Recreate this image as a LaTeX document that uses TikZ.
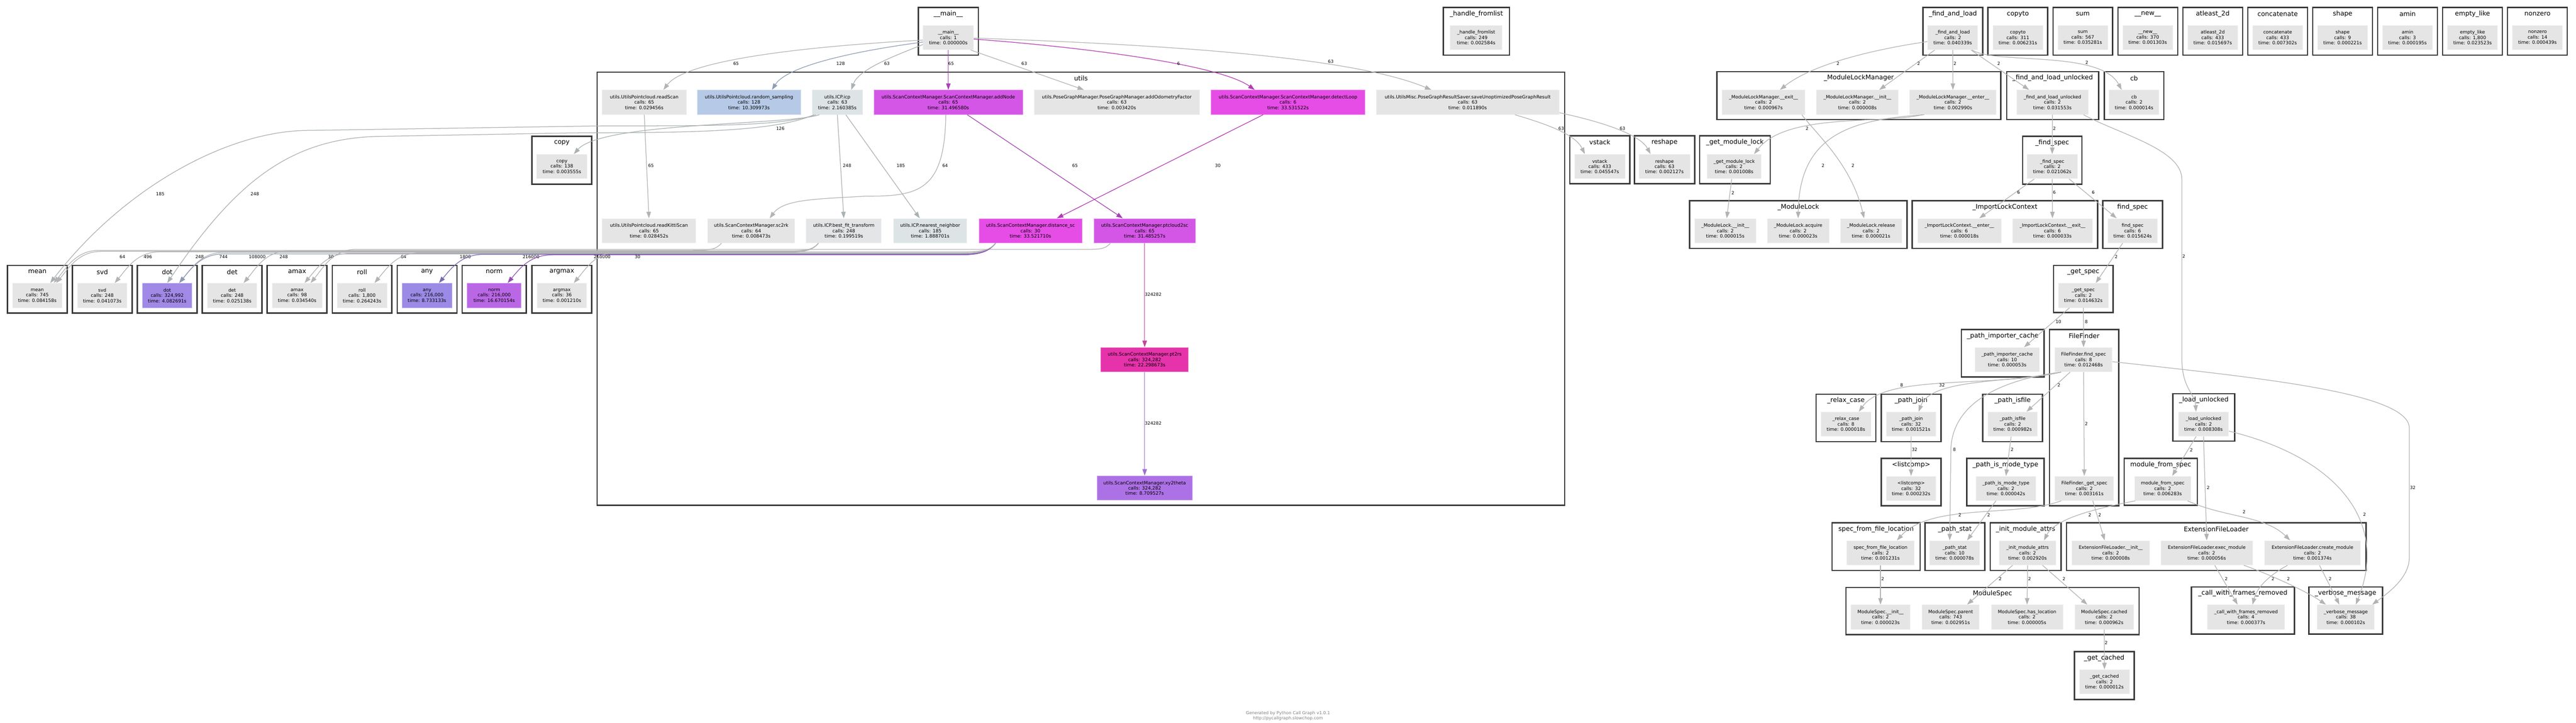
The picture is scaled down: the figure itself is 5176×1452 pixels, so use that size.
\documentclass[tikz,border=0pt]{standalone}
\usepackage{fontspec}
\setmainfont{DejaVu Sans}
\usetikzlibrary{arrows.meta,calc}

\definecolor{fgray}{HTML}{E5E5E5}
\definecolor{cIcp}{HTML}{DCE4E6}
\definecolor{cNear}{HTML}{DDE4E6}
\definecolor{cBest}{HTML}{E4E5E6}
\definecolor{cRand}{HTML}{B6C9E6}
\definecolor{cAdd}{HTML}{D456E6}
\definecolor{cDet}{HTML}{E64DE6}
\definecolor{cPt}{HTML}{E633AB}
\definecolor{cXy}{HTML}{AD71E6}
\definecolor{cDot}{HTML}{A089E7}
\definecolor{cAny}{HTML}{9C8BE6}
\definecolor{cNorm}{HTML}{BA67E6}
\definecolor{clline}{HTML}{3A3A3A}
\definecolor{egray}{HTML}{B3B3B3}
\definecolor{eIcp}{HTML}{AAB1B3}
\definecolor{eRand}{HTML}{8E9CB3}
\definecolor{eAdd}{HTML}{A543B3}
\definecolor{eDet}{HTML}{B33BB3}
\definecolor{ePt}{HTML}{C2469E}
\definecolor{eXy}{HTML}{9F6FD0}
\definecolor{eDot}{HTML}{8E9AB3}
\definecolor{eAny}{HTML}{796CB3}
\definecolor{eNorm}{HTML}{9150B3}

\newcommand{\fnfont}{\fontsize{9.3}{10.8}\selectfont}
\newcommand{\clfont}{\fontsize{13}{15}\selectfont}
\newcommand{\lbfont}{\fontsize{8.8}{10}\selectfont}
\newcommand{\ftfont}{\fontsize{8.6}{11}\selectfont}

\tikzset{
  fn/.style={rectangle, fill=#1, draw=#1!55!white, line width=1pt, minimum height=49pt, inner sep=1pt, align=center, font=\fnfont},
  fn/.default=fgray,
  clus/.style={draw=clline, line width=2.6pt},
  ctitle/.style={font=\clfont, inner sep=0pt},
  call/.style={draw=egray, line width=1.3pt, -{Triangle[length=13pt,width=9pt]}},
  lbl/.style={font=\lbfont, inner sep=0pt},
}

\begin{document}
\begin{tikzpicture}[x=1pt,y=-1pt]
\useasboundingbox (0,0) rectangle (5176,1452);
\fill[white] (0,0) rectangle (5176,1452);

% clusters with one function
\draw[clus] (1845,15) rectangle (1966,111);
\node[ctitle] (tMain) at (1905.5,28) {\_\_main\_\_};
\node[fn, minimum width=101pt] (main) at (1905.5,75.5) {\_\_main\_\_\\calls: 1\\time: 0.000000s};
\draw[clus] (2900,15) rectangle (3033,111);
\node[ctitle] (tHandle) at (2966.5,28) {\_handle\_fromlist};
\node[fn, minimum width=104pt] (handleFromlist) at (2966,75.5) {\_handle\_fromlist\\calls: 249\\time: 0.002584s};
\draw[clus] (3864,15) rectangle (3984,111);
\node[ctitle] (tFindLoad) at (3924,28) {\_find\_and\_load};
\node[fn, minimum width=101pt] (findLoad) at (3923.5,75.5) {\_find\_and\_load\\calls: 2\\time: 0.040339s};

\foreach \x/\nm/\ttl/\cl/\tm in {3994.5/copyto/copyto/311/0.006231, 4125/sum/sum/567/0.035281,
  4255.5/new/\_\_new\_\_/370/0.001303, 4386/atleastTwoD/atleast\_2d/433/0.015697,
  4516.5/concatenate/concatenate/433/0.007302, 4647/shape/shape/9/0.000221,
  4777.5/amin/amin/3/0.000195, 4908/emptyLike/empty\_like/{1,800}/0.023523,
  5038.5/nonzero/nonzero/14/0.000439}
{
  \draw[clus] (\x,15) rectangle ++(120,96);
  \node[ctitle] (t\nm) at (\x+60,28) {\ttl};
  \node[fn, minimum width=100pt] (\nm) at (\x+60,75.5) {\ttl\\calls: \cl\\time: \tm s};
}

\foreach \x/\w/\nm/\cl/\tm/\fc in {15/120/mean/745/0.084158/fgray, 145.5/120/svd/248/0.041073/fgray,
  276/120/dot/{324,992}/4.082691/cDot, 406.5/120/det/248/0.025138/fgray,
  537/120/amax/98/0.034540/fgray, 667.5/120/roll/{1,800}/0.264243/fgray,
  798/120/any/{216,000}/8.733133/cAny, 928.5/129/norm/{216,000}/16.670154/cNorm,
  1069/120/argmax/36/0.001210/fgray}
{
  \draw[clus] (\x,533) rectangle ++(\w,96);
  \node[ctitle] (t\nm) at (\x+\w/2,546) {\nm};
  \node[fn=\fc, minimum width=\w pt-20pt] (\nm) at (\x+\w/2,593.5) {\nm\\calls: \cl\\time: \tm s};
}

\draw[clus] (1069,274) rectangle (1189,370);
\node[ctitle] (tCopy) at (1129,287) {copy};
\node[fn, minimum width=102pt] (copy) at (1129,334.5) {copy\\calls: 138\\time: 0.003555s};
\draw[clus] (3154,273) rectangle (3275,369);
\node[ctitle] (tVstack) at (3214.5,286) {vstack};
\node[fn, minimum width=101pt] (vstack) at (3214.5,334.5) {vstack\\calls: 433\\time: 0.045547s};
\draw[clus] (3284,273) rectangle (3405,369);
\node[ctitle] (tReshape) at (3344.5,286) {reshape};
\node[fn, minimum width=102pt] (reshape) at (3344.5,334.5) {reshape\\calls: 63\\time: 0.002127s};
\draw[clus] (3415,273) rectangle (3557,369);
\node[ctitle] (tGetModLock) at (3486,286) {\_get\_module\_lock};
\node[fn, minimum width=109pt] (getModLock) at (3484.5,334.5) {\_get\_module\_lock\\calls: 2\\time: 0.001008s};
\draw[clus] (4032,144) rectangle (4217,240);
\node[ctitle] (tFindLoadUnl) at (4124.5,157) {\_find\_and\_load\_unlocked};
\node[fn, minimum width=144pt] (findLoadUnl) at (4124,205.5) {\_find\_and\_load\_unlocked\\calls: 2\\time: 0.031553s};
\draw[clus] (4228,144) rectangle (4348,240);
\node[ctitle] (tCb) at (4288,157) {cb};
\node[fn, minimum width=100pt] (cb) at (4288,205.5) {cb\\calls: 2\\time: 0.000014s};
\draw[clus] (4064,274) rectangle (4183,370);
\node[ctitle] (tFindSpecP) at (4123.5,287) {\_find\_spec};
\node[fn, minimum width=101pt] (findSpecP) at (4123.5,334.5) {\_find\_spec\\calls: 2\\time: 0.021062s};
\draw[clus] (4225,403) rectangle (4345,499);
\node[ctitle] (tFindSpec) at (4285,416) {find\_spec};
\node[fn, minimum width=100pt] (findSpec) at (4285,463.5) {find\_spec\\calls: 6\\time: 0.015624s};
\draw[clus] (4126,533) rectangle (4246,628);
\node[ctitle] (tGetSpec) at (4186,546) {\_get\_spec};
\node[fn, minimum width=100pt] (getSpec) at (4186,593.5) {\_get\_spec\\calls: 2\\time: 0.014632s};
\draw[clus] (3941,662) rectangle (4107,757);
\node[ctitle] (tPathImp) at (4024,675) {\_path\_importer\_cache};
\node[fn, minimum width=130pt] (pathImp) at (4033,722.5) {\_path\_importer\_cache\\calls: 10\\time: 0.000053s};
\draw[clus] (3649,792) rectangle (3769,887);
\node[ctitle] (tRelax) at (3709,805) {\_relax\_case};
\node[fn, minimum width=100pt] (relaxCase) at (3709,852) {\_relax\_case\\calls: 8\\time: 0.000018s};
\draw[clus] (3780,792) rectangle (3900,887);
\node[ctitle] (tPathJoin) at (3840,805) {\_path\_join};
\node[fn, minimum width=100pt] (pathJoin) at (3840,852) {\_path\_join\\calls: 32\\time: 0.001521s};
\draw[clus] (3984,792) rectangle (4104,887);
\node[ctitle] (tPathIsfile) at (4044,805) {\_path\_isfile};
\node[fn, minimum width=100pt] (pathIsfile) at (4044,852) {\_path\_isfile\\calls: 2\\time: 0.000982s};
\draw[clus] (4366,791) rectangle (4490,886);
\node[ctitle] (tLoadUnl) at (4428,804) {\_load\_unlocked};
\node[fn, minimum width=101pt] (loadUnl) at (4427.5,852) {\_load\_unlocked\\calls: 2\\time: 0.008308s};
\draw[clus] (3780,921) rectangle (3900,1016);
\node[ctitle] (tListcomp) at (3840,934) {<listcomp>};
\node[fn, minimum width=100pt] (listcomp) at (3840,981) {<listcomp>\\calls: 32\\time: 0.000232s};
\draw[clus] (3952,921) rectangle (4107,1016);
\node[ctitle] (tModeType) at (4029.5,934) {\_path\_is\_mode\_type};
\node[fn, minimum width=121pt] (pathModeType) at (4030.5,981) {\_path\_is\_mode\_type\\calls: 2\\time: 0.000042s};
\draw[clus] (4268,921) rectangle (4415,1015);
\node[ctitle] (tMfs) at (4341.5,934) {module\_from\_spec};
\node[fn, minimum width=113pt] (moduleFromSpec) at (4345.5,981) {module\_from\_spec\\calls: 2\\time: 0.006283s};
\draw[clus] (3681,1050) rectangle (3858,1146);
\node[ctitle] (tSpecFile) at (3769.5,1063) {spec\_from\_file\_location};
\node[fn, minimum width=135pt] (specFromFile) at (3778.5,1110.5) {spec\_from\_file\_location\\calls: 2\\time: 0.001231s};
\draw[clus] (3868,1050) rectangle (3988,1146);
\node[ctitle] (tPathStat) at (3928,1063) {\_path\_stat};
\node[fn, minimum width=101pt] (pathStat) at (3927.5,1110.5) {\_path\_stat\\calls: 10\\time: 0.000078s};
\draw[clus] (3999,1050) rectangle (4141,1146);
\node[ctitle] (tInitAttrs) at (4070,1063) {\_init\_module\_attrs};
\node[fn, minimum width=114pt] (initAttrs) at (4074,1110.5) {\_init\_module\_attrs\\calls: 2\\time: 0.002920s};
\draw[clus] (4403,1179) rectangle (4610,1274);
\node[ctitle] (tCallFrames) at (4506.5,1192) {\_call\_with\_frames\_removed};
\node[fn, minimum width=156pt] (callFrames) at (4513,1239.5) {\_call\_with\_frames\_removed\\calls: 4\\time: 0.000377s};
\draw[clus] (4639,1179) rectangle (4787,1274);
\node[ctitle] (tVerbose) at (4713,1192) {\_verbose\_message};
\node[fn, minimum width=115pt] (verbose) at (4713.5,1239.5) {\_verbose\_message\\calls: 38\\time: 0.000102s};
\draw[clus] (4168,1309) rectangle (4288,1405);
\node[ctitle] (tGetCached) at (4228,1322) {\_get\_cached};
\node[fn, minimum width=101pt] (getCached) at (4228.5,1369.5) {\_get\_cached\\calls: 2\\time: 0.000012s};

% clusters with several functions
\draw[clus] (1200,145) rectangle (3144,1015);
\node[ctitle] (tUtils) at (2172,157) {utils};
\node[fn, minimum width=169pt] (readScan) at (1294.5,205.5) {utils.UtilsPointcloud.readScan\\calls: 65\\time: 0.029456s};
\node[fn=cRand, minimum width=208pt] (randSampling) at (1505,205.5) {utils.UtilsPointcloud.random\_sampling\\calls: 128\\time: 10.309973s};
\node[fn=cIcp, minimum width=101pt] (icp) at (1682.5,205.5) {utils.ICP.icp\\calls: 63\\time: 2.160385s};
\node[fn=cAdd, minimum width=299pt] (addNode) at (1905.5,205.5) {utils.ScanContextManager.ScanContextManager.addNode\\calls: 65\\time: 31.496580s};
\node[fn, minimum width=332pt] (addOdom) at (2244,205.5) {utils.PoseGraphManager.PoseGraphManager.addOdometryFactor\\calls: 63\\time: 0.003420s};
\node[fn=cDet, minimum width=310pt] (detectLoop) at (2588,205.5) {utils.ScanContextManager.ScanContextManager.detectLoop\\calls: 6\\time: 33.531522s};
\node[fn, minimum width=368pt] (saveUnopt) at (2949,205.5) {utils.UtilsMisc.PoseGraphResultSaver.saveUnoptimizedPoseGraphResult\\calls: 63\\time: 0.011890s};
\node[fn, minimum width=188pt] (readKitti) at (1304,463.5) {utils.UtilsPointcloud.readKittiScan\\calls: 65\\time: 0.028452s};
\node[fn, minimum width=175pt] (scTwoRk) at (1509.5,463.5) {utils.ScanContextManager.sc2rk\\calls: 64\\time: 0.008473s};
\node[fn=cBest, minimum width=151pt] (bestFit) at (1695.5,463.5) {utils.ICP.best\_fit\_transform\\calls: 248\\time: 0.199519s};
\node[fn=cNear, minimum width=148pt] (nearest) at (1869,463.5) {utils.ICP.nearest\_neighbor\\calls: 185\\time: 1.888701s};
\node[fn=cDet, minimum width=207pt] (distanceSc) at (2070.5,463.5) {utils.ScanContextManager.distance\_sc\\calls: 30\\time: 33.521710s};
\node[fn=cAdd, minimum width=204pt] (ptcloudSc) at (2300,463.5) {utils.ScanContextManager.ptcloud2sc\\calls: 65\\time: 31.485257s};
\node[fn=cPt, minimum width=176pt] (ptRs) at (2300,722.5) {utils.ScanContextManager.pt2rs\\calls: 324,282\\time: 22.298673s};
\node[fn=cXy, minimum width=192pt] (xyTheta) at (2300,980.5) {utils.ScanContextManager.xy2theta\\calls: 324,282\\time: 8.709527s};

\draw[clus] (3450,144) rectangle (4020,240);
\node[ctitle] (tMlm) at (3735,157) {\_ModuleLockManager};
\node[fn, minimum width=167pt] (mlmExit) at (3543.5,205.5) {\_ModuleLockManager.\_\_exit\_\_\\calls: 2\\time: 0.000967s};
\node[fn, minimum width=164pt] (mlmInit) at (3732,205.5) {\_ModuleLockManager.\_\_init\_\_\\calls: 2\\time: 0.000008s};
\node[fn, minimum width=174pt] (mlmEnter) at (3924,205.5) {\_ModuleLockManager.\_\_enter\_\_\\calls: 2\\time: 0.002990s};

\draw[clus] (3395,403) rectangle (3832,499);
\node[ctitle] (tMl) at (3613.5,416) {\_ModuleLock};
\node[fn, minimum width=123pt] (mlInit) at (3466.5,463.5) {\_ModuleLock.\_\_init\_\_\\calls: 2\\time: 0.000015s};
\node[fn, minimum width=124pt] (mlAcquire) at (3613,463.5) {\_ModuleLock.acquire\\calls: 2\\time: 0.000023s};
\node[fn, minimum width=123pt] (mlRelease) at (3759.5,463.5) {\_ModuleLock.release\\calls: 2\\time: 0.000021s};

\draw[clus] (3842,403) rectangle (4215,499);
\node[ctitle] (tIlc) at (4028.5,416) {\_ImportLockContext};
\node[fn, minimum width=168pt] (ilcEnter) at (3937,463.5) {\_ImportLockContext.\_\_enter\_\_\\calls: 6\\time: 0.000018s};
\node[fn, minimum width=160pt] (ilcExit) at (4124,463.5) {\_ImportLockContext.\_\_exit\_\_\\calls: 6\\time: 0.000033s};

\draw[clus] (4118,662) rectangle (4257,1016);
\node[ctitle] (tFileFinder) at (4187.5,675) {FileFinder};
\node[fn, minimum width=115pt] (ffFind) at (4186.5,722.5) {FileFinder.find\_spec\\calls: 8\\time: 0.012468s};
\node[fn, minimum width=118pt] (ffGet) at (4188,981) {FileFinder.\_get\_spec\\calls: 2\\time: 0.003161s};

\draw[clus] (4152,1050) rectangle (4754,1146);
\node[ctitle] (tEfl) at (4453,1063) {ExtensionFileLoader};
\node[fn, minimum width=156pt] (eflInit) at (4241,1110.5) {ExtensionFileLoader.\_\_init\_\_\\calls: 2\\time: 0.000008s};
\node[fn, minimum width=184pt] (execModule) at (4434,1110.5) {ExtensionFileLoader.exec\_module\\calls: 2\\time: 0.000056s};
\node[fn, minimum width=193pt] (createModule) at (4646.5,1110.5) {ExtensionFileLoader.create\_module\\calls: 2\\time: 0.001374s};

\draw[clus] (3709,1180) rectangle (4298,1275);
\node[ctitle] (tModuleSpec) at (4003.5,1193) {ModuleSpec};
\node[fn, minimum width=119pt] (msInit) at (3778.5,1239.5) {ModuleSpec.\_\_init\_\_\\calls: 2\\time: 0.000023s};
\node[fn, minimum width=115pt] (msParent) at (3919.5,1239.5) {ModuleSpec.parent\\calls: 743\\time: 0.002951s};
\node[fn, minimum width=144pt] (msHasLoc) at (4073,1239.5) {ModuleSpec.has\_location\\calls: 2\\time: 0.000005s};
\node[fn, minimum width=118pt] (msCached) at (4228,1239.5) {ModuleSpec.cached\\calls: 2\\time: 0.000962s};

% calls from __main__
\draw[call] ($(main.west)+(0,5)$) .. controls (1640,92) and (1380,118) .. ($(readScan.north)+(38.5,0)$) node[lbl, at={(1479,128)}] (lMainRead) {65};
\draw[call, draw=eRand] ($(main.west)+(0,9)$) .. controls (1700,105) and (1580,135) .. ($(randSampling.north)+(46,0)$) node[lbl, at={(1689,128)}] (lMainRand) {128};
\draw[call, draw=eIcp] ($(main.west)+(0,14)$) .. controls (1790,115) and (1725,140) .. ($(icp.north)+(28,0)$) node[lbl, at={(1782,128)}] (lMainIcp) {63};
\draw[call, draw=eAdd] (main.south) -- (addNode.north) node[lbl, at={(1911,128)}] (lMainAdd) {65};
\draw[call] ($(main.south east)+(-6,0)$) -- ($(addOdom.north)+(-66,0)$) node[lbl, at={(2058,128)}] (lMainOdom) {63};
\draw[call, draw=eDet] ($(main.east)+(0,3)$) .. controls (2180,95) and (2450,130) .. ($(detectLoop.north)+(-67,0)$) node[lbl, at={(2368,128)}] (lMainDet) {6};
\draw[call] ($(main.east)+(0,1)$) .. controls (2350,90) and (2720,115) .. ($(saveUnopt.north)+(-73,0)$) node[lbl, at={(2674,124)}] (lMainSave) {63};

% calls inside utils
\draw[call] (readScan.south) -- (readKitti.north) node[lbl, at={(1308,333)}] (lReadKitti) {65};
\draw[call, draw=eIcp] (icp.south) -- (bestFit.north) node[lbl, at={(1702,333)}] (lIcpBest) {248};
\draw[call, draw=eIcp] ($(icp.south)+(17,0)$) -- ($(nearest.north)+(-21,0)$) node[lbl, at={(1810,333)}] (lIcpNear) {185};
\draw[call, draw=eIcp] ($(icp.south west)+(15,0)$) .. controls (1580,252) and (1210,245) .. ($(copy.north)+(24,0)$) node[lbl, at={(1568,258)}] (lIcpCopy) {126};
\draw[call, draw=eIcp] ($(icp.south west)+(8,0)$) .. controls (1560,256) and (1400,252) .. (1200,253) -- (620,262) .. controls (460,262) and (250,375) .. ($(mean.north)+(26,0)$) node[lbl, at={(322,390)}] (lIcpMean) {185};
\draw[call, draw=eIcp] ($(icp.south west)+(4,0)$) .. controls (1550,268) and (1350,266) .. (1150,267) -- (760,274) .. controls (580,278) and (470,370) .. (dot.north) node[lbl, at={(512,390)}] (lIcpDot) {248};
\draw[call] ($(addNode.south)+(-5,0)$) .. controls (1898,380) and (1850,395) .. (1740,394) .. controls (1640,400) and (1575,400) .. ($(scTwoRk.north)+(37,0)$) node[lbl, at={(1899,333)}] (lAddSc) {64};
\draw[call, draw=eAdd] ($(addNode.south)+(38,0)$) -- ($(ptcloudSc.north)+(-44,0)$) node[lbl, at={(2160,333)}] (lAddPt) {65};
\draw[call, draw=eDet] ($(detectLoop.south)+(-50,0)$) -- ($(distanceSc.north)+(53,0)$) node[lbl, at={(2447,333)}] (lDetDist) {30};
\draw[call, draw=ePt] (ptcloudSc.south) -- (ptRs.north) node[lbl, at={(2317,591)}] (lPtRs) {324282};
\draw[call, draw=eXy] (ptRs.south) -- (xyTheta.north) node[lbl, at={(2317,850)}] (lRsXy) {324282};

% calls into numpy
\draw[call] ($(scTwoRk.south)+(-60,0)$) .. controls +(-12,14) and +(45,0) .. (1379.5,503) -- (198,503) .. controls +(-45,0) and +(25,-30) .. ($(mean.north)+(33,0)$) node[lbl, at={(246,516)}] (lScMean) {64};
\draw[call] ($(bestFit.south)+(-51,0)$) .. controls +(-12,14) and +(45,0) .. (1574.5,505) -- (203,505) .. controls +(-45,0) and +(25,-30) .. ($(mean.north)+(38,0)$) node[lbl, at={(297,516)}] (lBestMean) {496};
\draw[call] ($(bestFit.south)+(-51,0)$) .. controls +(-12,14) and +(45,0) .. (1574.5,506) -- (320.5,506) .. controls +(-45,0) and +(25,-30) .. ($(svd.north)+(25,0)$) node[lbl, at={(401,516)}] (lBestSvd) {248};
\draw[call] ($(bestFit.south)+(-51,0)$) .. controls +(-12,14) and +(45,0) .. (1574.5,507) -- (450,507) .. controls +(-45,0) and +(25,-30) .. ($(dot.north)+(24,0)$) node[lbl, at={(449,516)}] (lBestDot) {744};
\draw[call, draw=eDot] ($(distanceSc.south)+(-70,0)$) .. controls +(-12,14) and +(45,0) .. (1930.5,510) -- (450,510) .. controls +(-45,0) and +(25,-30) .. ($(dot.north)+(24,0)$) node[lbl, at={(517,516)}] (lDistDot) {108000};
\draw[call] ($(bestFit.south)+(-51,0)$) .. controls +(-12,14) and +(45,0) .. (1574.5,504) -- (579.5,504) .. controls +(-45,0) and +(25,-30) .. ($(det.north)+(23,0)$) node[lbl, at={(570,516)}] (lBestDet) {248};
\draw[call] ($(distanceSc.south)+(-70,0)$) .. controls +(-12,14) and +(45,0) .. (1930.5,509) -- (702,509) .. controls +(-45,0) and +(25,-30) .. ($(amax.north)+(15,0)$) node[lbl, at={(665,516)}] (lDistAmax) {30};
\draw[call] ($(ptcloudSc.south)+(-69,0)$) .. controls +(-12,14) and +(45,0) .. (2161,501) -- (714,501) .. controls +(-45,0) and +(25,-30) .. ($(amax.north)+(27,0)$) node[lbl, at={(811,516)}] (lPtAmax) {64};
\draw[call] ($(distanceSc.south)+(-70,0)$) .. controls +(-12,14) and +(45,0) .. (1930.5,508) -- (842.5,508) .. controls +(-45,0) and +(25,-30) .. ($(roll.north)+(25,0)$) node[lbl, at={(935,516)}] (lDistRoll) {1800};
\draw[call, draw=eAny] ($(distanceSc.south)+(-70,0)$) .. controls +(-12,14) and +(45,0) .. (1930.5,511) -- (972,511) .. controls +(-45,0) and +(25,-30) .. ($(any.north)+(24,0)$) node[lbl, at={(1067,516)}] (lDistAny) {216000};
\draw[call, draw=eNorm] ($(distanceSc.south)+(-70,0)$) .. controls +(-12,14) and +(45,0) .. (1930.5,512) -- (1110,512) .. controls +(-45,0) and +(25,-30) .. ($(norm.north)+(27,0)$) node[lbl, at={(1210,516)}] (lDistNorm) {216000};
\draw[call] ($(distanceSc.south)+(-70,0)$) .. controls +(-12,14) and +(45,0) .. (1930.5,506) -- (1243,506) .. controls +(-45,0) and +(25,-30) .. ($(argmax.north)+(24,0)$) node[lbl, at={(1281,516)}] (lDistArgmax) {30};

% result saver
\draw[call] ($(saveUnopt.south)+(95,0)$) .. controls (3110,250) and (3165,270) .. ($(vstack.north)+(-30,0)$) node[lbl, at={(3137,258)}] (lSaveV) {63};
\draw[call] ($(saveUnopt.south east)+(0,-4)$) .. controls (3220,245) and (3295,270) .. ($(reshape.north)+(-28,0)$) node[lbl, at={(3260,258)}] (lSaveR) {63};

% import machinery
\draw[call] ($(findLoad.west)+(0,8)$) .. controls (3760,100) and (3640,130) .. ($(mlmExit.north)+(33,0)$) node[lbl, at={(3693,128)}] (lFlExit) {2};
\draw[call] ($(findLoad.south west)+(15,0)$) -- ($(mlmInit.north)+(44,0)$) node[lbl, at={(3855,128)}] (lFlInit) {2};
\draw[call] (findLoad.south) -- (mlmEnter.north) node[lbl, at={(3928,128)}] (lFlEnter) {2};
\draw[call] ($(findLoad.south east)+(-14,0)$) -- ($(findLoadUnl.north)+(-47,0)$) node[lbl, at={(4016,128)}] (lFlUnl) {2};
\draw[call] ($(findLoad.south east)+(-12,0)$) .. controls (4010,130) and (4220,100) .. ($(cb.north)+(-25,0)$) node[lbl, at={(4193,126)}] (lFlCb) {2};
\draw[call] ($(mlmEnter.south west)+(26,0)$) .. controls (3780,250) and (3590,226) .. ($(getModLock.north)+(40,0)$) node[lbl, at={(3631,258)}] (lEnterLock) {2};
\draw[call] ($(mlmEnter.south west)+(30,0)$) .. controls (3720,240) and (3615,270) .. (mlAcquire.north) node[lbl, at={(3663,333)}] (lEnterAcq) {2};
\draw[call] ($(mlmExit.south east)+(-7,0)$) .. controls (3650,270) and (3720,330) .. ($(mlRelease.north)+(-14,0)$) node[lbl, at={(3723,333)}] (lExitRel) {2};
\draw[call] ($(getModLock.south)+(-5,0)$) -- ($(mlInit.north)+(3,0)$) node[lbl, at={(3482,387)}] (lLockInit) {2};
\draw[call] (findLoadUnl.south) -- (findSpecP.north) node[lbl, at={(4128,258)}] (lUnlSpec) {2};
\draw[call] ($(findLoadUnl.south east)+(-10,0)$) .. controls (4260,270) and (4384,300) .. (4384,360) -- (4384,720) .. controls (4384,780) and (4410,790) .. ($(loadUnl.north)+(-15,0)$) node[lbl, at={(4388,515)}] (lUnlLoad) {2};
\draw[call] ($(findSpecP.south)+(-36,0)$) -- ($(ilcEnter.north)+(40,0)$) node[lbl, at={(4056,387)}] (lSpecEnter) {6};
\draw[call] (findSpecP.south) -- (ilcExit.north) node[lbl, at={(4128,387)}] (lSpecExit) {6};
\draw[call] ($(findSpecP.south)+(34,0)$) -- ($(findSpec.north)+(-32,0)$) node[lbl, at={(4206,387)}] (lSpecFind) {6};
\draw[call] ($(findSpec.south)+(-20,0)$) -- ($(getSpec.north)+(25,0)$) node[lbl, at={(4252,516)}] (lFindGet) {2};
\draw[call] ($(getSpec.south)+(-28,0)$) -- ($(pathImp.north)+(34,0)$) node[lbl, at={(4136,646)}] (lGetImp) {10};
\draw[call] (getSpec.south) -- (ffFind.north) node[lbl, at={(4192,646)}] (lGetFf) {8};
\draw[call] ($(ffFind.south west)+(13,0)$) .. controls (4000,780) and (3790,750) .. ($(relaxCase.north)+(26,0)$) node[lbl, at={(3821,774)}] (lFfRelax) {8};
\draw[call] ($(ffFind.south west)+(13,0)$) .. controls (4030,770) and (3880,760) .. ($(pathJoin.north)+(15,0)$) node[lbl, at={(3902,774)}] (lFfJoin) {32};
\draw[call] ($(ffFind.south)+(-27,0)$) -- ($(pathIsfile.north)+(28,0)$) node[lbl, at={(4137,774)}] (lFfIsfile) {2};
\draw[call] ($(ffFind.south west)+(13,0)$) .. controls (4040,760) and (3925,800) .. (3920,900) -- ($(pathStat.north)+(-10,0)$) node[lbl, at={(3927,903)}] (lFfStat) {8};
\draw[call] (ffFind.south) -- (ffGet.north) node[lbl, at={(4192,851)}] (lFfGet) {2};
\draw[call] ($(ffFind.east)+(0,4)$) .. controls (4550,760) and (4841,790) .. (4841,860) -- (4841,1120) .. controls (4841,1160) and (4800,1190) .. ($(verbose.north)+(53,0)$) node[lbl, at={(4848,980)}] (lFfVerb) {32};
\draw[call] (pathJoin.south) -- (listcomp.north) node[lbl, at={(3847,903)}] (lJoinList) {32};
\draw[call] ($(pathIsfile.south)+(-3,0)$) -- (pathModeType.north) node[lbl, at={(4043,903)}] (lIsModeT) {2};
\draw[call] ($(pathModeType.south)+(-20,0)$) -- ($(pathStat.north)+(25,0)$) node[lbl, at={(3996,1034)}] (lModeStat) {2};
\draw[call] ($(ffGet.south west)+(13,0)$) .. controls (4050,1040) and (3880,1010) .. ($(specFromFile.north)+(33,0)$) node[lbl, at={(3938,1034)}] (lGetSpecFile) {2};
\draw[call] ($(ffGet.south)+(17,0)$) -- ($(eflInit.north)+(-12,0)$) node[lbl, at={(4219,1034)}] (lGetEfl) {2};
\draw[call] ($(moduleFromSpec.south west)+(2,0)$) .. controls (4220,1020) and (4130,1040) .. ($(initAttrs.north)+(33,0)$) node[lbl, at={(4199,1034)}] (lMfsInit) {2};
\draw[call] ($(moduleFromSpec.south east)+(-7,0)$) .. controls (4470,1040) and (4550,1035) .. ($(createModule.north)+(-45,0)$) node[lbl, at={(4509,1028)}] (lMfsCreate) {2};
\draw[call] ($(loadUnl.south)+(-15,0)$) -- ($(moduleFromSpec.north)+(19,0)$) node[lbl, at={(4403,904)}] (lLoadMfs) {2};
\draw[call] (loadUnl.south) -- (execModule.north) node[lbl, at={(4437,980)}] (lLoadExec) {2};
\draw[call] ($(loadUnl.east)+(0,14)$) .. controls (4700,920) and (4800,1050) .. ($(verbose.north)+(20,0)$) node[lbl, at={(4751,1033)}] (lLoadVerb) {2};
\draw[call] (specFromFile.south) -- (msInit.north) node[lbl, at={(3783,1163)}] (lSpecMs) {2};
\draw[call] ($(initAttrs.south)+(-30,0)$) -- ($(msParent.north)+(33,0)$) node[lbl, at={(4019,1163)}] (lInitPar) {2};
\draw[call] (initAttrs.south) -- (msHasLoc.north) node[lbl, at={(4078,1163)}] (lInitHas) {2};
\draw[call] ($(initAttrs.south)+(30,0)$) -- ($(msCached.north)+(-34,0)$) node[lbl, at={(4147,1163)}] (lInitCach) {2};
\draw[call] (msCached.south) -- (getCached.north) node[lbl, at={(4232,1291)}] (lCachGet) {2};
\draw[call] ($(execModule.south)+(16,0)$) -- ($(callFrames.north)+(-17,0)$) node[lbl, at={(4473,1163)}] (lExecCall) {2};
\draw[call] ($(createModule.south)+(-50,0)$) .. controls (4560,1155) and (4535,1180) .. ($(callFrames.north)+(13,0)$) node[lbl, at={(4567,1163)}] (lCreateCall) {2};
\draw[call] ($(execModule.south east)+(-18,0)$) .. controls (4550,1150) and (4630,1185) .. ($(verbose.north)+(-40,0)$) node[lbl, at={(4598,1163)}] (lExecVerb) {2};
\draw[call] ($(createModule.south)+(14,0)$) -- ($(verbose.north)+(-13,0)$) node[lbl, at={(4682,1163)}] (lCreateVerb) {2};

\node[font=\ftfont, text=black!50, align=center, inner sep=0pt] (footer) at (2588,1438) {Generated by Python Call Graph v1.0.1\\http://pycallgraph.slowchop.com};
\end{tikzpicture}
\end{document}
